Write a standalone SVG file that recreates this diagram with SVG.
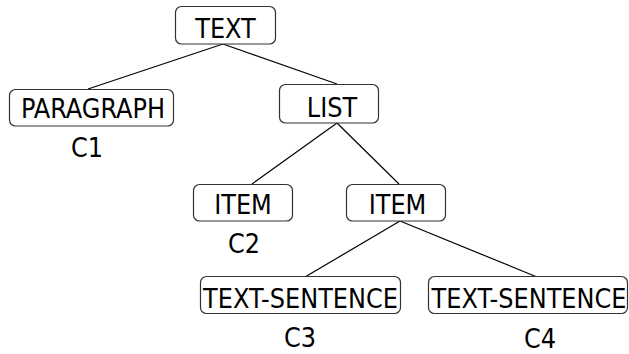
<svg xmlns="http://www.w3.org/2000/svg" width="629" height="354" viewBox="0 0 629 354">
<style>
.box{fill:#fff;stroke:#333;stroke-width:1.2}
.t{font-family:"DejaVu Sans Condensed","DejaVu Sans",sans-serif;font-stretch:condensed;font-size:26.7px;fill:#000;text-anchor:middle}
.e{stroke:#000;stroke-width:1.2;fill:none}
</style>
<rect width="629" height="354" fill="#fff"/>
<g id="connectors">
<line class="e" x1="223" y1="44" x2="88" y2="89"/>
<line class="e" x1="223" y1="44" x2="337" y2="84"/>
<line class="e" x1="337" y1="123" x2="252" y2="184"/>
<line class="e" x1="337" y1="123" x2="399" y2="184"/>
<line class="e" x1="400" y1="221" x2="305" y2="277"/>
<line class="e" x1="400" y1="221" x2="537" y2="277"/>
</g>
<g id="text"><rect class="box" x="175.5" y="6.5" width="100" height="37.5" rx="6"/><text class="t" x="225.5" y="38">TEXT</text></g>
<g id="paragraph"><rect class="box" x="9.5" y="89.5" width="164" height="36.5" rx="6"/><text class="t" x="93" y="118">PARAGRAPH</text><text class="t" x="87" y="157">C1</text></g>
<g id="list"><rect class="box" x="279.5" y="84.5" width="99" height="38.5" rx="6"/><text class="t" x="332" y="117">LIST</text></g>
<g id="item1"><rect class="box" x="193.5" y="184.5" width="99" height="36.5" rx="6"/><text class="t" x="243" y="214">ITEM</text><text class="t" x="244" y="253">C2</text></g>
<g id="item2"><rect class="box" x="346.5" y="184.5" width="99" height="36.5" rx="6"/><text class="t" x="397.5" y="214">ITEM</text></g>
<g id="ts1"><rect class="box" x="200.5" y="276.5" width="200" height="37" rx="6"/><text class="t" x="300.5" y="308">TEXT-SENTENCE</text><text class="t" x="300" y="347">C3</text></g>
<g id="ts2"><rect class="box" x="428.5" y="276.5" width="199" height="37" rx="6"/><text class="t" x="529" y="308">TEXT-SENTENCE</text><text class="t" x="540" y="348">C4</text></g>
</svg>
